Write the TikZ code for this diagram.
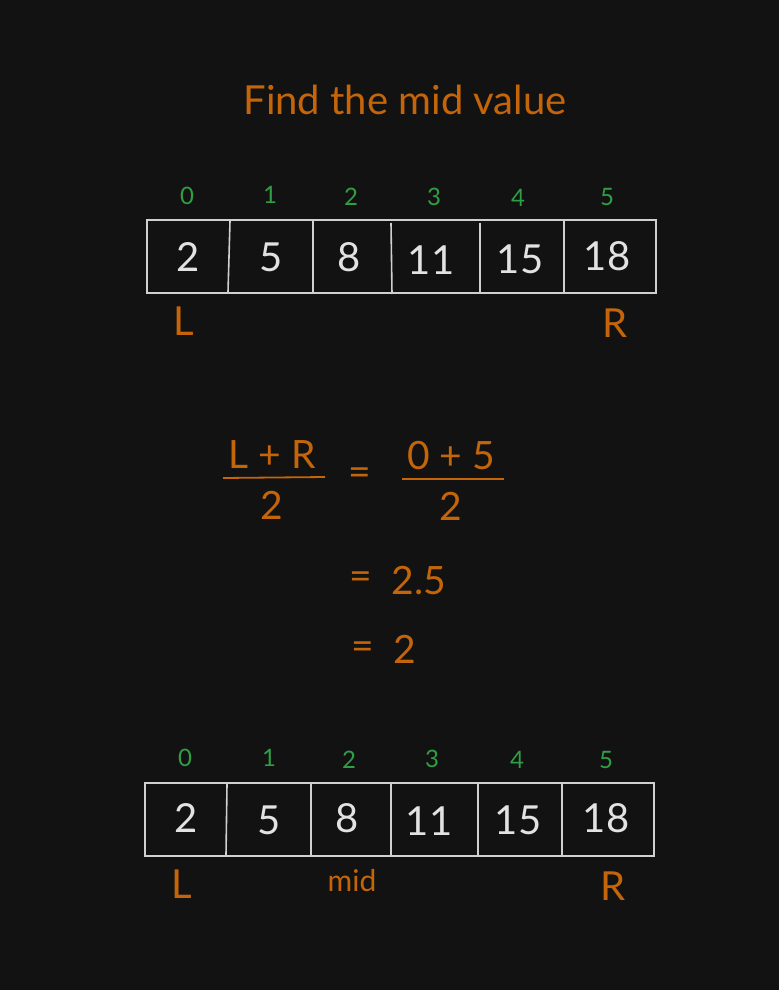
\documentclass[tikz,border=0pt]{standalone}
\usepackage{fontspec}
\setmainfont{Lato}
\definecolor{bgc}{HTML}{121212}
\definecolor{orng}{HTML}{C4650A}
\definecolor{grn}{HTML}{2F9E44}
\definecolor{valc}{HTML}{E2E2E2}
\definecolor{linec}{HTML}{D0D0D0}
\begin{document}
\begin{tikzpicture}[x=1pt,y=-1pt,
  idx/.style={text=grn,font=\fontsize{24}{24}\selectfont,inner sep=0pt,anchor=center},
  val/.style={text=valc,font=\fontsize{40}{40}\selectfont,inner sep=0pt,anchor=center},
  ptr/.style={text=orng,font=\fontsize{40}{40}\selectfont,inner sep=0pt,anchor=center},
  eq/.style={text=orng,font=\fontsize{39}{39}\selectfont,inner sep=0pt,anchor=center},
  cellline/.style={draw=linec,line width=1.6pt},
  fracline/.style={draw=orng,line width=1.8pt}]
\fill[bgc] (0,0) rectangle (779,990);
\useasboundingbox (0,0) rectangle (779,990);

\node[text=orng,font=\fontsize{40}{40}\selectfont,inner sep=0pt] (title) at (405,100) {Find the mid value};

% top array
\draw[cellline] (147,220) rectangle (656,293);
\draw[cellline] (230,221) -- (228,292);
\draw[cellline] (313,221) -- (313,292);
\draw[cellline] (391,223) -- (392,294);
\draw[cellline] (480,223) -- (480,294);
\draw[cellline] (564,221) -- (564,292);
\foreach \n/\x/\y/\t in {a0/187/196/0,a1/270/195/1,a2/351/197/2,a3/434/197/3,a4/518/198/4,a5/607/197/5}
  \node[idx] (i\n) at (\x,\y) {\t};
\foreach \n/\x/\y/\t in {a0/188/257/2,a1/271/257/5,a2/349/257/8,a3/431/260/11,a4/520/259/15,a5/607/256/18}
  \node[val] (v\n) at (\x,\y) {\t};
\node[ptr] (Ltop) at (184,321) {L};
\node[ptr] (Rtop) at (615,323) {R};

% formula
\node[eq] (num1) at (272,455) {L + R};
\draw[fracline] (223,478) -- (325,477);
\node[eq] (den1) at (272,505) {2};
\node[eq] (eq1) at (360,477) {=};
\node[eq] (num2) at (451,456) {0 + 5};
\draw[fracline] (402,479) -- (504,479);
\node[eq] (den2) at (451,506) {2};
\node[eq] (eq2) at (361,581) {=};
\node[eq] (res1) at (419,581) {2.5};
\node[eq] (eq3) at (363,651) {=};
\node[eq] (res2) at (405,649) {2};

% bottom array
\draw[cellline] (145,783) rectangle (654,856);
\draw[cellline] (227,784) -- (226,855);
\draw[cellline] (311,784) -- (311,855);
\draw[cellline] (391,784) -- (391,856);
\draw[cellline] (478,784) -- (478,855);
\draw[cellline] (562,784) -- (562,855);
\foreach \n/\x/\y/\t in {b0/185/758/0,b1/269/758/1,b2/349/760/2,b3/432/759/3,b4/517/760/4,b5/606/760/5}
  \node[idx] (i\n) at (\x,\y) {\t};
\foreach \n/\x/\y/\t in {b0/186/818/2,b1/269/820/5,b2/347/818/8,b3/429/821/11,b4/518/820/15,b5/606/818/18}
  \node[val] (v\n) at (\x,\y) {\t};
\node[ptr] (Lbot) at (182,884) {L};
\node[text=orng,font=\fontsize{30}{30}\selectfont,inner sep=0pt] (mid) at (352,881) {mid};
\node[ptr] (Rbot) at (613,886) {R};
\end{tikzpicture}
\end{document}
